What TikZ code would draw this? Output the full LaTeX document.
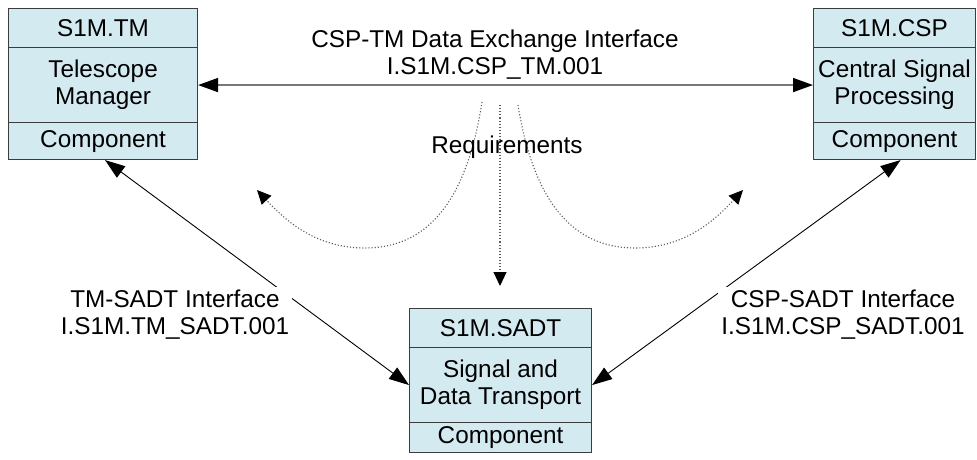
\documentclass[tikz,border=0pt]{standalone}
\usepackage{fontspec}
\setmainfont{Liberation Sans}
\usetikzlibrary{arrows.meta}
\definecolor{boxfill}{RGB}{211,234,240}
\definecolor{boxline}{RGB}{60,60,60}
\definecolor{linkgray}{RGB}{120,120,120}
\definecolor{dotgray}{RGB}{90,90,90}
\begin{document}
\begin{tikzpicture}[x=1pt,y=-1pt,
  font=\fontsize{24.3}{27}\selectfont,
  cell/.style={rectangle, draw=boxline, fill=boxfill, line width=1.1pt,
    inner sep=0pt, anchor=north west, align=center},
  mainlink/.style={draw=linkgray, line width=1.6pt, {Triangle[length=20pt,width=14pt,color=black]}-{Triangle[length=20pt,width=14pt,color=black]}},
  sidelink/.style={draw=black, line width=0.9pt, {Triangle[length=20pt,width=14pt]}-{Triangle[length=20pt,width=14pt]}},
  reqlink/.style={draw=dotgray, line width=1.1pt, dash pattern=on 1.1pt off 2pt,
    -{Triangle[length=14pt,width=13pt,color=black]}},
  label/.style={align=center, inner sep=3pt}]
\useasboundingbox (0,0) rectangle (977,460);

% Telescope Manager
\node[cell, minimum width=189pt, minimum height=39pt] (tmhead) at (8,8) {S1M.TM};
\node[cell, minimum width=189pt, minimum height=75pt] (tmbody) at (8,47) {Telescope\\Manager};
\node[cell, minimum width=189pt, minimum height=37pt] (tmcomp) at (8,122) {Component};

% Central Signal Processing
\node[cell, minimum width=162pt, minimum height=39pt] (csphead) at (813,8) {S1M.CSP};
\node[cell, minimum width=162pt, minimum height=75pt] (cspbody) at (813,47) {Central Signal\\Processing};
\node[cell, minimum width=162pt, minimum height=37pt] (cspcomp) at (813,122) {Component};

% Signal and Data Transport
\node[cell, minimum width=182pt, minimum height=39pt] (sadthead) at (409,308) {S1M.SADT};
\node[cell, minimum width=182pt, minimum height=75pt] (sadtbody) at (409,347) {Signal and\\Data Transport};
\node[cell, minimum width=182pt, minimum height=30pt] (sadtcomp) at (409,422) {Component};

% interfaces
\draw[mainlink] (tmbody.east) -- (cspbody.west);
\node[label] (csptm) at (495,55) {CSP-TM Data Exchange Interface\\I.S1M.CSP\_TM.001};

\draw[sidelink] ([xshift=2pt]tmcomp.south) -- (sadtbody.west);
\draw[sidelink] ([xshift=6pt]cspcomp.south) -- (sadtbody.east);
\node[label, fill=white] (tmsadt) at (175,315) {TM-SADT Interface\\I.S1M.TM\_SADT.001};
\node[label, fill=white] (cspsadt) at (843,315) {CSP-SADT Interface\\I.S1M.CSP\_SADT.001};

% requirements flow
\coordinate (rqLs) at (482,102);
\coordinate (rqLe) at (257,190);
\coordinate (rqMs) at (500,105);
\coordinate (rqMe) at (500,286);
\coordinate (rqRs) at (518,105);
\coordinate (rqRe) at (743,190);
\draw[reqlink] (rqLs) .. controls (466,205) and (425,248) .. (365,248)
  .. controls (315,248) and (285,220) .. (rqLe);
\draw[reqlink] (rqMs) -- (rqMe);
\draw[reqlink] (rqRs) .. controls (534,205) and (575,248) .. (635,248)
  .. controls (685,248) and (715,220) .. (rqRe);
\node[label] (req) at (507,147) {Requirements};
\end{tikzpicture}
\end{document}
